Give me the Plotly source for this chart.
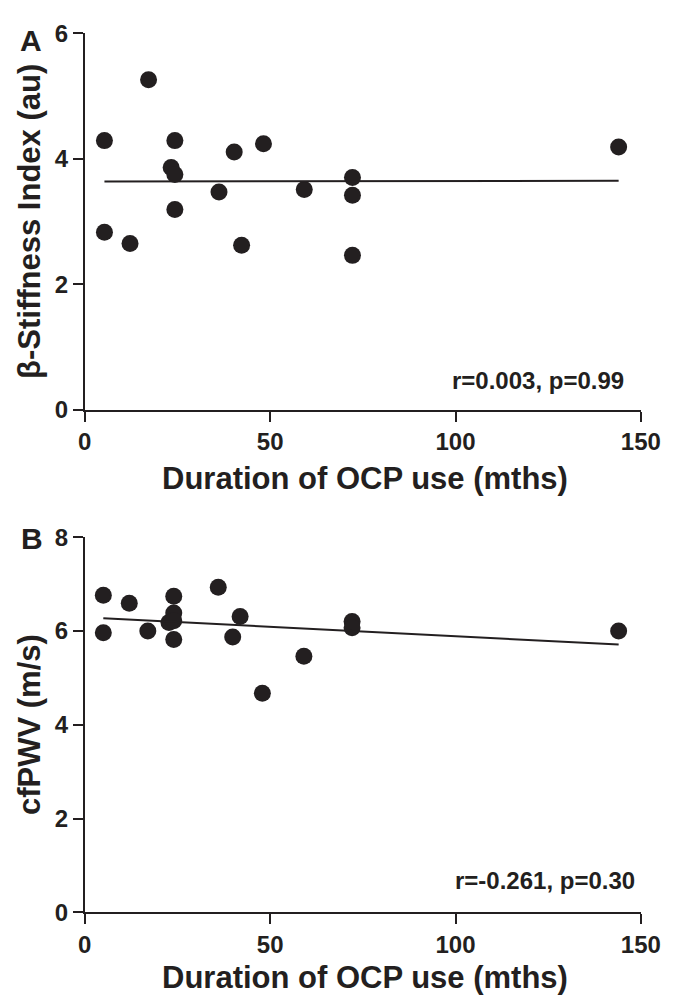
import plotly.graph_objects as go

# ---- Data ----
months_a = [5.3, 5.3, 12.2, 17.2, 24.3, 23.3, 24.3, 24.3, 36.2, 40.3, 42.3, 48.2, 59.2, 72.2, 72.2, 72.2, 144]
stiffness = [4.29, 2.83, 2.65, 5.26, 4.29, 3.86, 3.75, 3.19, 3.47, 4.11, 2.62, 4.24, 3.51, 3.70, 3.42, 2.46, 4.19]
fit_a_x = [5.3, 144]
fit_a_y = [3.64, 3.65]

months_b = [5.0, 5.0, 12.0, 17.0, 24.0, 24.0, 22.7, 24.0, 24.0, 36.0, 41.9, 39.9, 47.9, 59.1, 72.1, 72.1, 144]
cfpwv = [6.76, 5.96, 6.59, 6.00, 6.74, 6.38, 6.18, 6.22, 5.82, 6.93, 6.31, 5.87, 4.67, 5.46, 6.20, 6.07, 6.00]
fit_b_x = [5.0, 144]
fit_b_y = [6.27, 5.71]

x_ticks = [0, 50, 100, 150]
ya_ticks = [0, 2, 4, 6]
yb_ticks = [0, 2, 4, 6, 8]

stats_a = "r=0.003, p=0.99"
stats_b = "r=-0.261, p=0.30"
x_title = "Duration of OCP use (mths)"
ya_title = "β-Stiffness Index (au)"
yb_title = "cfPWV (m/s)"

# ---- Layout constants ----
W, H = 674, 1007
INK = "#231f20"
FONT = "Liberation Sans, Arial, sans-serif"

def px_x(x):
    return x / W

def px_y(y):
    return (H - y) / H

fig = go.Figure()

fig.add_trace(go.Scatter(x=months_a, y=stiffness, mode="markers",
                         marker=dict(size=17, color=INK), xaxis="x", yaxis="y",
                         showlegend=False))
fig.add_trace(go.Scatter(x=fit_a_x, y=fit_a_y, mode="lines",
                         line=dict(color=INK, width=2), xaxis="x", yaxis="y",
                         showlegend=False))
fig.add_trace(go.Scatter(x=months_b, y=cfpwv, mode="markers",
                         marker=dict(size=17, color=INK), xaxis="x2", yaxis="y2",
                         showlegend=False))
fig.add_trace(go.Scatter(x=fit_b_x, y=fit_b_y, mode="lines",
                         line=dict(color=INK, width=2), xaxis="x2", yaxis="y2",
                         showlegend=False))

tickfont = dict(family=FONT, size=24, color=INK, weight="bold")
axis_common = dict(showline=True, linecolor=INK, linewidth=2, ticks="outside",
                   ticklen=10, tickwidth=2, tickcolor=INK, showgrid=False,
                   zeroline=False, tickfont=tickfont, fixedrange=True)

xdom = [px_x(72.7), px_x(652)]
fig.update_layout(
    width=W, height=H,
    margin=dict(l=0, r=0, t=0, b=0),
    paper_bgcolor="white", plot_bgcolor="white",
    xaxis=dict(domain=xdom, range=[0, 150], tickvals=x_ticks, anchor="y", **axis_common),
    yaxis=dict(domain=[px_y(398.3), px_y(11.7)], range=[0, 6], tickvals=ya_ticks,
               anchor="x", **axis_common),
    xaxis2=dict(domain=xdom, range=[0, 150], tickvals=x_ticks, anchor="y2", **axis_common),
    yaxis2=dict(domain=[px_y(915), px_y(529.3)], range=[0, 8], tickvals=yb_ticks,
                anchor="x2", **axis_common),
)

title_font = dict(family=FONT, size=31, color=INK, weight="bold")
letter_font = dict(family=FONT, size=30, color=INK, weight="bold")
stat_font = dict(family=FONT, size=24, color=INK, weight="bold")

annotations = [
    dict(text=x_title, x=px_x(365), y=px_y(469), xref="paper", yref="paper",
         showarrow=False, font=title_font, xanchor="center", yanchor="middle"),
    dict(text=x_title, x=px_x(365), y=px_y(982), xref="paper", yref="paper",
         showarrow=False, font=title_font, xanchor="center", yanchor="middle"),
    dict(text=ya_title, x=px_x(15), y=px_y(205), xref="paper", yref="paper",
         showarrow=False, font=title_font, textangle=-90, xanchor="center", yanchor="middle"),
    dict(text=yb_title, x=px_x(15), y=px_y(722), xref="paper", yref="paper",
         showarrow=False, font=title_font, textangle=-90, xanchor="center", yanchor="middle"),
    dict(text="A", x=px_x(3), y=px_y(19), xref="paper", yref="paper",
         showarrow=False, font=letter_font, xanchor="left", yanchor="middle"),
    dict(text="B", x=px_x(4), y=px_y(531), xref="paper", yref="paper",
         showarrow=False, font=letter_font, xanchor="left", yanchor="middle"),
    dict(text=stats_a, x=98.4, y=0.47, xref="x", yref="y", showarrow=False,
         font=stat_font, xanchor="left", yanchor="middle"),
    dict(text=stats_b, x=99.4, y=0.68, xref="x2", yref="y2", showarrow=False,
         font=stat_font, xanchor="left", yanchor="middle"),
]
fig.update_layout(annotations=annotations)

fig.write_html("out.html")
